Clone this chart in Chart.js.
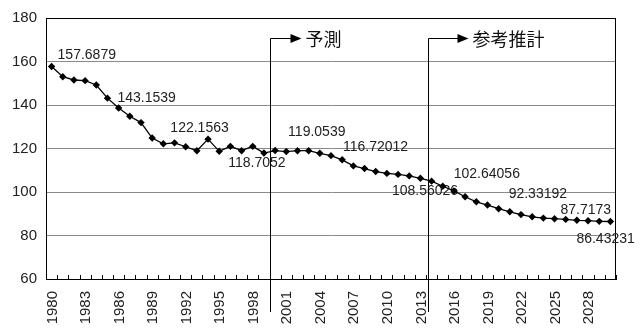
<!DOCTYPE html>
<html>
<head>
<meta charset="utf-8">
<script src="https://cdn.jsdelivr.net/npm/chart.js@4/dist/chart.umd.min.js"></script>
<style>
  html, body { margin: 0; padding: 0; background: #fff; }
  #wrap { width: 644px; height: 329px; }
</style>
</head>
<body>
<div id="wrap"><canvas id="c" width="644" height="329"></canvas></div>
<script>
// Yearly series, 1980–2030
const years = [
  '1980','1981','1982','1983','1984','1985','1986','1987','1988','1989',
  '1990','1991','1992','1993','1994','1995','1996','1997','1998','1999',
  '2000','2001','2002','2003','2004','2005','2006','2007','2008','2009',
  '2010','2011','2012','2013','2014','2015','2016','2017','2018','2019',
  '2020','2021','2022','2023','2024','2025','2026','2027','2028','2029',
  '2030'
];

const values = [
  157.6879, 153.0, 151.5, 151.2, 149.2, 143.1539, 138.6, 134.8, 131.9, 124.8,
  122.1563, 122.6, 120.8, 119.0, 124.3, 118.7052, 121.0, 119.0, 121.0, 117.9,
  119.0539, 118.6, 119.0, 119.0, 117.8, 116.72012, 114.8, 112.0, 110.8, 109.4,
  108.56026, 108.1, 107.4, 106.3, 105.0, 102.64056, 100.5, 97.8, 95.5, 94.0,
  92.33192, 90.9, 89.6, 88.6, 88.0, 87.7173, 87.4, 87.0, 86.8, 86.5,
  86.43231
];

// Years whose tick label is printed
const yearTicks = ['1980','1983','1986','1989','1992','1995','1998','2001','2004',
                   '2007','2010','2013','2016','2019','2022','2025','2028'];

// Years whose value is written next to the point
const labelledYears = ['1980','1985','1990','1995','2000','2005','2010','2015','2020','2025','2030'];

// Period captions
const periodNames = ['予測', '参考推計'];

const NUM_FONT = 'Arial, "Liberation Sans", sans-serif';
const CJK_FONT = '"Noto Sans CJK JP", sans-serif';

// Value captions, drawn beneath the line and markers
const valueLabels = {
  id: 'valueLabels',
  beforeDatasetsDraw(chart, args, opts) {
    const meta = chart.getDatasetMeta(0);
    const data = chart.data.datasets[0].data;
    const ctx = chart.ctx;
    ctx.save();
    ctx.font = opts.font;
    ctx.fillStyle = opts.color;
    ctx.textAlign = 'left';
    ctx.textBaseline = 'middle';
    labelledYears.forEach((yr, k) => {
      const i = chart.data.labels.indexOf(yr);
      const pt = meta.data[i];
      const off = opts.offsets[k];
      ctx.fillText(String(data[i]), pt.x + off[0], pt.y + off[1]);
    });
    ctx.restore();
  }
};

// Outer frame (top/right) and inward tick marks on the category axis
const frameAndTicks = {
  id: 'frameAndTicks',
  beforeDatasetsDraw(chart, args, opts) {
    const { ctx, chartArea: a } = chart;
    const xs = chart.scales.x;
    ctx.save();
    ctx.strokeStyle = '#000';
    ctx.lineWidth = 1;
    ctx.beginPath();
    ctx.moveTo(a.left, Math.round(a.top) + 0.5);
    ctx.lineTo(a.right, Math.round(a.top) + 0.5);
    ctx.moveTo(Math.round(a.right) - 0.5, a.top);
    ctx.lineTo(Math.round(a.right) - 0.5, a.bottom);
    const n = chart.data.labels.length;
    for (let i = 0; i <= n; i++) {
      const x = Math.round(xs.getPixelForValue(i - 0.5)) + 0.5;
      ctx.moveTo(x, a.bottom);
      ctx.lineTo(x, a.bottom - opts.tickLength);
    }
    ctx.stroke();
    ctx.restore();
  }
};

// Vertical year captions under the category axis
const yearCaptions = {
  id: 'yearCaptions',
  afterDraw(chart, args, opts) {
    const { ctx, chartArea: a } = chart;
    const xs = chart.scales.x;
    yearTicks.forEach(yr => {
      const i = chart.data.labels.indexOf(yr);
      const x = xs.getPixelForValue(i);
      ctx.save();
      ctx.font = opts.font;
      ctx.fillStyle = opts.color;
      ctx.textAlign = 'right';
      ctx.textBaseline = 'middle';
      ctx.translate(x + 1, a.bottom + opts.padding);
      ctx.rotate(-Math.PI / 2);
      ctx.fillText(yr, 0, 0);
      ctx.restore();
    });
  }
};

// Vertical period dividers with arrow and caption
const periodMarkers = {
  id: 'periodMarkers',
  afterDatasetsDraw(chart, args, opts) {
    const { ctx, chartArea: a } = chart;
    const xs = chart.scales.x;
    ctx.save();
    ctx.lineWidth = 1;
    opts.items.forEach((m, k) => {
      const x = Math.round(xs.getPixelForValue(m.at)) + 0.5;
      const y = Math.round(a.top + opts.arrowOffset) + 0.5;
      ctx.strokeStyle = '#000';
      ctx.fillStyle = '#000';
      ctx.beginPath();
      ctx.moveTo(x, a.bottom + opts.below);
      ctx.lineTo(x, y);
      ctx.lineTo(x + m.len - 10, y);
      ctx.stroke();
      ctx.beginPath();
      ctx.moveTo(x + m.len - 11, y - 4.5);
      ctx.lineTo(x + m.len, y);
      ctx.lineTo(x + m.len - 11, y + 4.5);
      ctx.closePath();
      ctx.fill();
      ctx.font = opts.font;
      ctx.fillStyle = '#111';
      ctx.textAlign = 'left';
      ctx.textBaseline = 'middle';
      ctx.fillText(periodNames[k], x + m.len + 4, y + 1);
    });
    ctx.restore();
  }
};

new Chart(document.getElementById('c'), {
  type: 'line',
  data: {
    labels: years,
    datasets: [{
      data: values,
      borderColor: '#000',
      borderWidth: 1.3,
      backgroundColor: '#000',
      pointStyle: 'rectRot',
      pointRadius: 3.7,
      pointBorderWidth: 0,
      pointBackgroundColor: '#000',
      tension: 0,
      fill: false
    }]
  },
  options: {
    responsive: false,
    animation: false,
    events: [],
    layout: { padding: { top: 16, right: 28, left: 0, bottom: 0 } },
    plugins: {
      legend: { display: false },
      tooltip: { enabled: false },
      valueLabels: {
        font: '14px ' + NUM_FONT,
        color: '#222',
        offsets: [[6, -11], [10, 0], [7, -16], [9, 12], [13, -18], [12, -8],
                  [5, 18], [11, -12], [10, -15], [6, -9], [-34, 18]]
      },
      frameAndTicks: { tickLength: 4 },
      yearCaptions: { font: '15px ' + NUM_FONT, color: '#222', padding: 12 },
      periodMarkers: {
        font: '18px ' + CJK_FONT,
        arrowOffset: 20,
        below: 33,
        items: [ { at: 19.5, len: 31 }, { at: 33.7, len: 40 } ]
      }
    },
    scales: {
      x: {
        type: 'category',
        offset: true,
        grid: { display: false },
        border: { display: true, color: '#000', width: 1 },
        ticks: { display: false },
        afterFit(scale) { scale.height = 50; }
      },
      y: {
        min: 60,
        max: 180,
        grid: { color: '#8a8a8a', lineWidth: 1, drawTicks: false },
        border: { display: true, color: '#000', width: 1 },
        ticks: {
          stepSize: 20,
          padding: 9,
          color: '#222',
          font: { family: NUM_FONT, size: 15 }
        },
        afterFit(scale) { scale.width = 46; }
      }
    }
  },
  plugins: [frameAndTicks, valueLabels, periodMarkers, yearCaptions]
});
</script>
</body>
</html>
